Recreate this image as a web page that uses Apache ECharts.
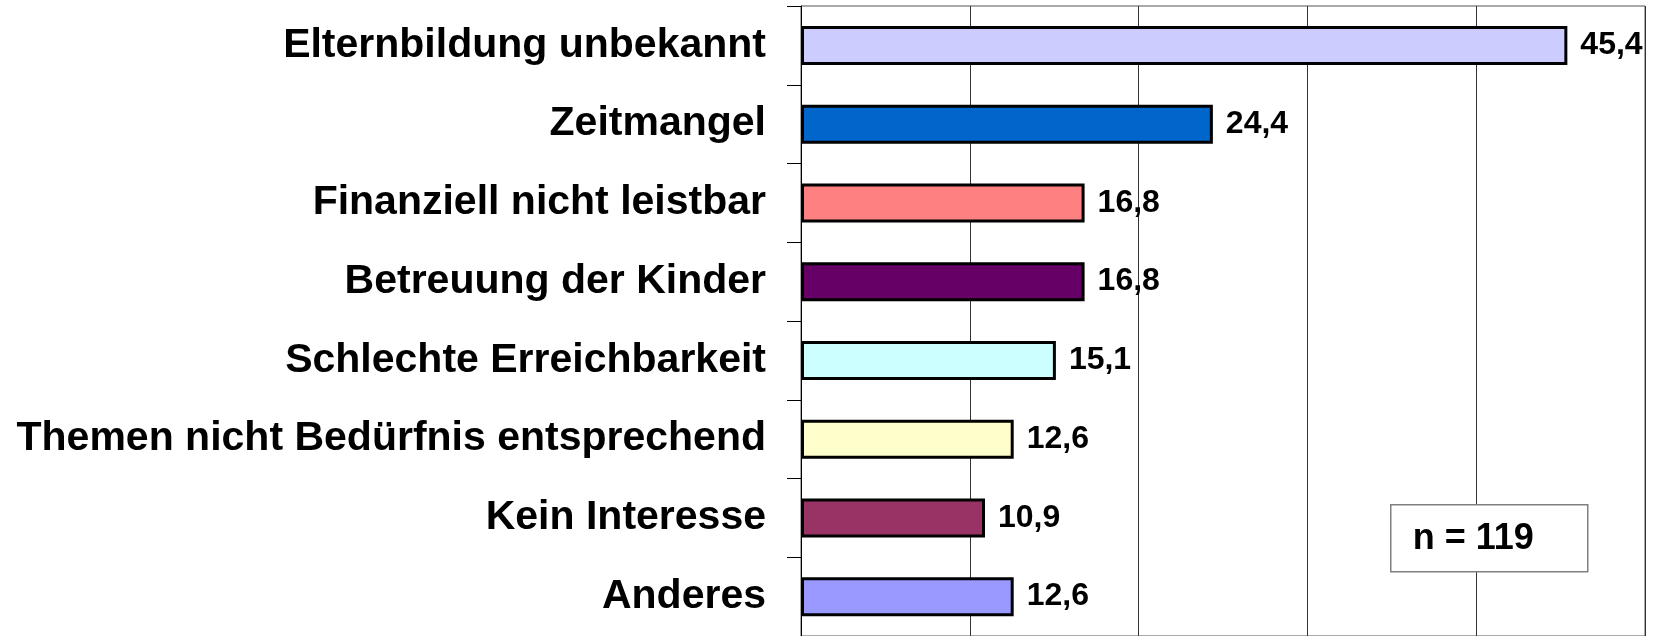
<!DOCTYPE html>
<html>
<head>
<meta charset="utf-8">
<script src="https://cdn.jsdelivr.net/npm/echarts@6/dist/echarts.min.js"></script>
<style>
  html, body { margin: 0; padding: 0; background: #fff; }
  #chart { width: 1653px; height: 636px; }
</style>
</head>
<body>
<div id="chart"></div>
<script>
  const categories = [
    'Elternbildung unbekannt',
    'Zeitmangel',
    'Finanziell nicht leistbar',
    'Betreuung der Kinder',
    'Schlechte Erreichbarkeit',
    'Themen nicht Bedürfnis entsprechend',
    'Kein Interesse',
    'Anderes'
  ];
  const values = [45.4, 24.4, 16.8, 16.8, 15.1, 12.6, 10.9, 12.6];
  const barColors = ['#CCCCFF', '#0066CC', '#FF8080', '#660066', '#CCFFFF', '#FFFFCC', '#993366', '#9999FF'];
  const sampleNote = 'n = 119';

  const font = '"Liberation Sans", Arial, sans-serif';
  const chart = echarts.init(document.getElementById('chart'));

  chart.setOption({
    animation: false,
    backgroundColor: '#fff',
    grid: {
      left: 801,
      top: 6,
      width: 844,
      height: 632,
      show: true,
      borderColor: '#555',
      borderWidth: 1,
      backgroundColor: 'transparent'
    },
    xAxis: {
      type: 'value',
      min: 0,
      max: 50,
      interval: 10,
      axisLabel: { show: false },
      axisLine: { show: false },
      axisTick: { show: false },
      splitLine: { show: true, lineStyle: { color: '#333', width: 1 } }
    },
    yAxis: {
      type: 'category',
      inverse: true,
      data: categories,
      axisLine: { show: true, lineStyle: { color: '#000', width: 1 } },
      axisTick: { show: true, length: 14, lineStyle: { color: '#000', width: 1 } },
      axisLabel: {
        margin: 35,
        color: '#000',
        fontFamily: font,
        fontWeight: 'bold',
        fontSize: 41
      }
    },
    series: [{
      type: 'bar',
      data: values.map((v, i) => ({
        value: v,
        itemStyle: { color: barColors[i] }
      })),
      barWidth: 39,
      itemStyle: { borderColor: '#000', borderWidth: 3 },
      label: {
        show: true,
        position: 'right',
        distance: 13,
        color: '#000',
        fontFamily: font,
        fontWeight: 'bold',
        fontSize: 32,
        formatter: p => p.value.toFixed(1).replace('.', ',')
      }
    }],
    graphic: [{
      type: 'group',
      left: 1390,
      top: 504,
      z: 100,
      children: [{
        type: 'rect',
        z: 100,
        shape: { x: 0, y: 0, width: 197, height: 67 },
        style: { fill: '#fff', stroke: '#808080', lineWidth: 1.5 }
      }, {
        type: 'text',
        z: 101,
        x: 22,
        y: 34,
        style: {
          text: sampleNote,
          fill: '#000',
          font: 'bold 36px ' + font,
          textVerticalAlign: 'middle'
        }
      }]
    }]
  });
</script>
</body>
</html>
